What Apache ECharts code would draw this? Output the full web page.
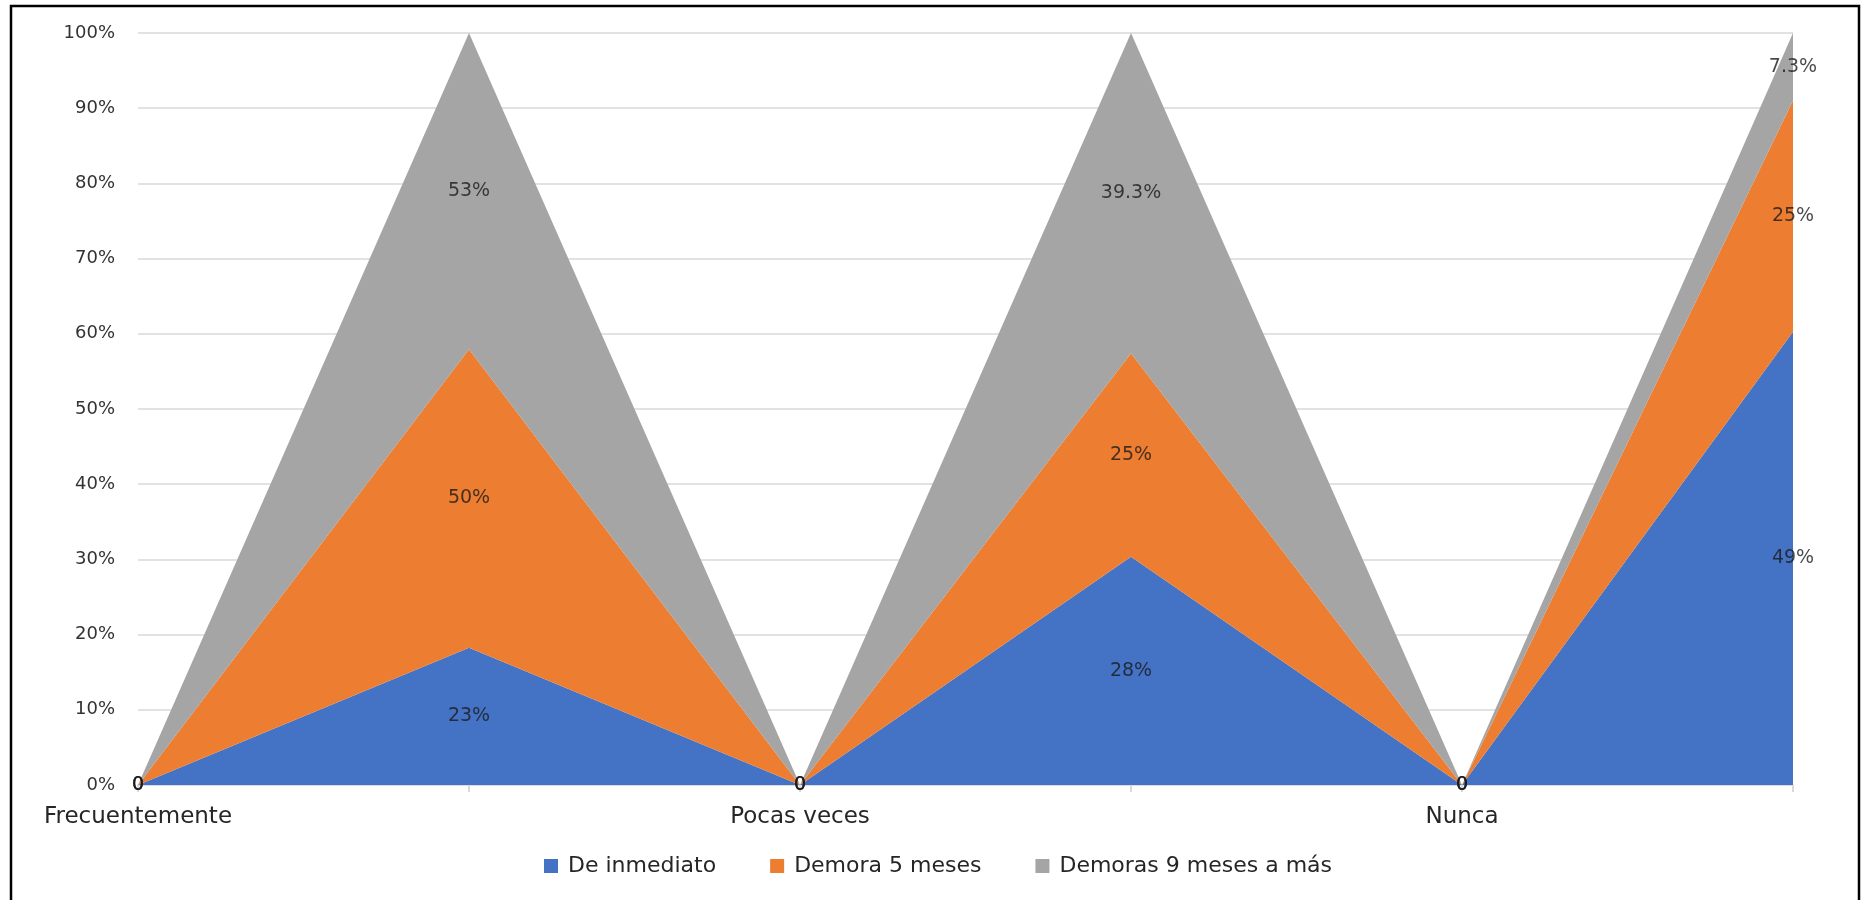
<!DOCTYPE html>
<html>
<head>
<meta charset="utf-8">
<script src="https://cdn.jsdelivr.net/npm/echarts@6/dist/echarts.min.js"></script>
<style>
html,body{margin:0;padding:0;background:#fff;}
#chart{width:1861px;height:900px;}
</style>
</head>
<body>
<div id="chart"></div>
<script>
const categories = ['Frecuentemente', '', 'Pocas veces', '', 'Nunca', ''];
const seriesNames = ['De inmediato', 'Demora 5 meses', 'Demoras 9 meses a más'];
const deInmediato = [0, 23, 0, 28, 0, 49];
const demora5 = [0, 50, 0, 25, 0, 25];
const demora9 = [0, 53, 0, 39.3, 0, 7.3];
const yTicks = [0, 10, 20, 30, 40, 50, 60, 70, 80, 90, 100];
const colors = ['#4472C4', '#ED7D31', '#A5A5A5'];

const raw = [deInmediato, demora5, demora9];
const totals = categories.map((_, i) => raw.reduce((s, a) => s + a[i], 0));
const pct = raw.map(a => a.map((v, i) => totals[i] ? v / totals[i] * 100 : 0));

const font = 'DejaVu Sans';
const textColor = '#262626';

const series = [];
pct.forEach((arr, k) => {
  series.push({
    name: seriesNames[k],
    type: 'line',
    stack: 'total',
    data: arr,
    symbol: 'none',
    lineStyle: { width: 0 },
    areaStyle: { color: colors[k], opacity: 1 },
    itemStyle: { color: colors[k] },
    emphasis: { disabled: true },
    z: 2
  });
});
// labels at the middle of each stacked segment
pct.forEach((arr, k) => {
  const data = arr.map((v, i) => {
    let base = 0;
    for (let j = 0; j < k; j++) base += pct[j][i];
    const item = { value: [i, base + v / 2, raw[k][i]] };
    if (raw[k][i] === 0) item.label = { offset: [0, 3] };
    return item;
  });
  series.push({
    name: 'lbl' + k,
    type: 'scatter',
    data: data,
    symbolSize: 0,
    silent: true,
    z: 5,
    label: {
      show: true,
      position: 'inside',
      fontFamily: font,
      fontSize: 19,
      color: '#1a1a1a',
      formatter: p => {
        const v = p.value[2];
        return v === 0 ? '0' : v + '%';
      }
    },
    labelLayout: { hideOverlap: false }
  });
});

const chart = echarts.init(document.getElementById('chart'));
chart.setOption({
  animation: false,
  backgroundColor: '#fff',
  graphic: [{
    type: 'rect',
    shape: { x: 11, y: 6, width: 1848, height: 905 },
    style: { fill: 'none', stroke: '#000', lineWidth: 2.5 },
    z: 100
  }],
  legend: {
    data: seriesNames,
    left: 539,
    top: 850,
    icon: 'rect',
    itemWidth: 14,
    itemHeight: 14,
    itemGap: 54,
    textStyle: { fontFamily: font, fontSize: 22, color: textColor, padding: [0, 0, 0, 5] }
  },
  grid: { left: 138, right: 68, top: 33, bottom: 115, containLabel: false },
  xAxis: {
    type: 'category',
    data: categories,
    boundaryGap: false,
    axisLine: { lineStyle: { color: '#d9d9d9', width: 1.5 } },
    axisTick: { show: true, interval: 0, length: 7, lineStyle: { color: '#d9d9d9', width: 2 } },
    axisLabel: { interval: 0, fontFamily: font, fontSize: 23, color: textColor, margin: 21 },
    splitLine: { show: false }
  },
  yAxis: {
    type: 'value',
    min: 0,
    max: 100,
    interval: 10,
    axisLine: { show: false },
    axisTick: { show: false },
    axisLabel: {
      fontFamily: font, fontSize: 18, color: '#333', margin: 23,
      formatter: v => yTicks.includes(v) ? v + '%' : ''
    },
    splitLine: { lineStyle: { color: '#d9d9d9', width: 1.5 } }
  },
  series: series
});
</script>
</body>
</html>
